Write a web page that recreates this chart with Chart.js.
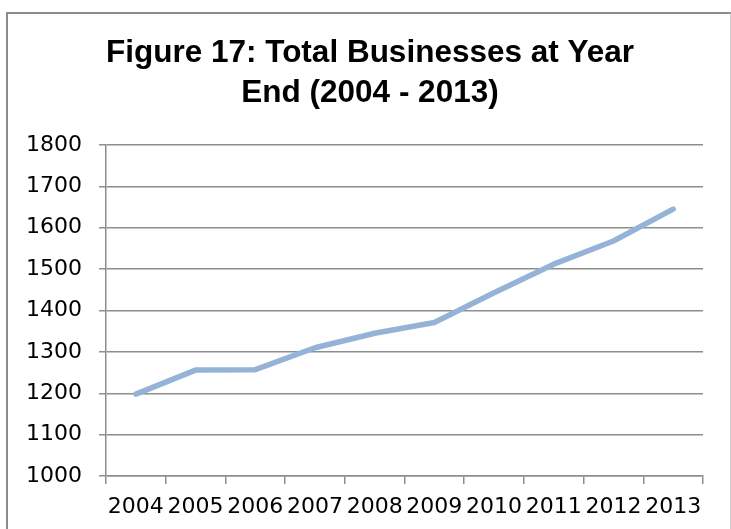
<!DOCTYPE html>
<html>
<head>
<meta charset="utf-8">
<script src="https://cdn.jsdelivr.net/npm/chart.js@4.4.0/dist/chart.umd.min.js"></script>
<style>
    html, body { margin: 0; padding: 0; background: #fff; overflow: hidden; }
    #frame {
        position: absolute; left: 6px; top: 12px; width: 722px; height: 540px;
        border-left: 2px solid #8c8c8c; border-top: 2px solid #8c8c8c; border-right: 2px solid #d0d0d0;
    }
    #wrap { position: absolute; left: 0; top: 0; width: 731px; height: 529px; }
</style>
</head>
<body>
<div id="frame"></div>
<div id="wrap"><canvas id="chart"></canvas></div>
<script>
const years = ['2004', '2005', '2006', '2007', '2008', '2009', '2010', '2011', '2012', '2013'];
const businesses = [1198, 1256, 1257, 1310, 1345, 1371, 1443, 1512, 1568, 1645];
const titleLines = ['Figure 17: Total Businesses at Year', 'End (2004 - 2013)'];
const yMin = 1000, yMax = 1800, yStep = 100;

const gridGray = '#8e8e8e';
const tickFont = { family: '"DejaVu Sans", sans-serif', size: 22 };

// title is centred a bit right of the canvas middle, so draw it ourselves
const titlePlugin = {
    id: 'figTitle',
    afterDraw(c) {
        const g = c.ctx;
        g.save();
        g.font = 'bold 31.5px "Liberation Sans", Arial, sans-serif';
        g.fillStyle = '#000';
        g.textAlign = 'center';
        g.textBaseline = 'alphabetic';
        titleLines.forEach((t, i) => g.fillText(t, 370, 62 + i * 40));
        g.restore();
    }
};

const ctx = document.getElementById('chart').getContext('2d');
const chart = new Chart(ctx, {
    type: 'line',
    data: {
        labels: years,
        datasets: [{
            label: 'Total Businesses',
            data: businesses,
            borderColor: '#95b3d7',
            backgroundColor: '#95b3d7',
            borderWidth: 5.5,
            borderCapStyle: 'round',
            borderJoinStyle: 'round',
            pointRadius: 0,
            tension: 0
        }]
    },
    options: {
        responsive: true,
        maintainAspectRatio: false,
        animation: false,
        layout: { padding: { left: 0, right: 28, top: 145, bottom: 0 } },
        plugins: {
            legend: { display: false },
            tooltip: { enabled: false },
            title: { display: false }
        },
        scales: {
            x: {
                offset: true,
                grid: { offset: true, drawOnChartArea: false, color: gridGray, lineWidth: 1.5, tickLength: 8 },
                border: { color: gridGray, width: 1.5 },
                ticks: { color: '#000', font: tickFont, autoSkip: false, maxRotation: 0, padding: 10 },
                afterFit: s => { s.height = 53; }
            },
            y: {
                min: yMin,
                max: yMax,
                grid: { color: gridGray, lineWidth: 1.5, tickLength: 7 },
                border: { color: gridGray, width: 1.5 },
                ticks: { stepSize: yStep, color: '#000', font: tickFont, padding: 17, callback: v => String(v) },
                afterFit: s => { s.width = 106; }
            }
        }
    },
    plugins: [titlePlugin]
});
</script>
</body>
</html>
